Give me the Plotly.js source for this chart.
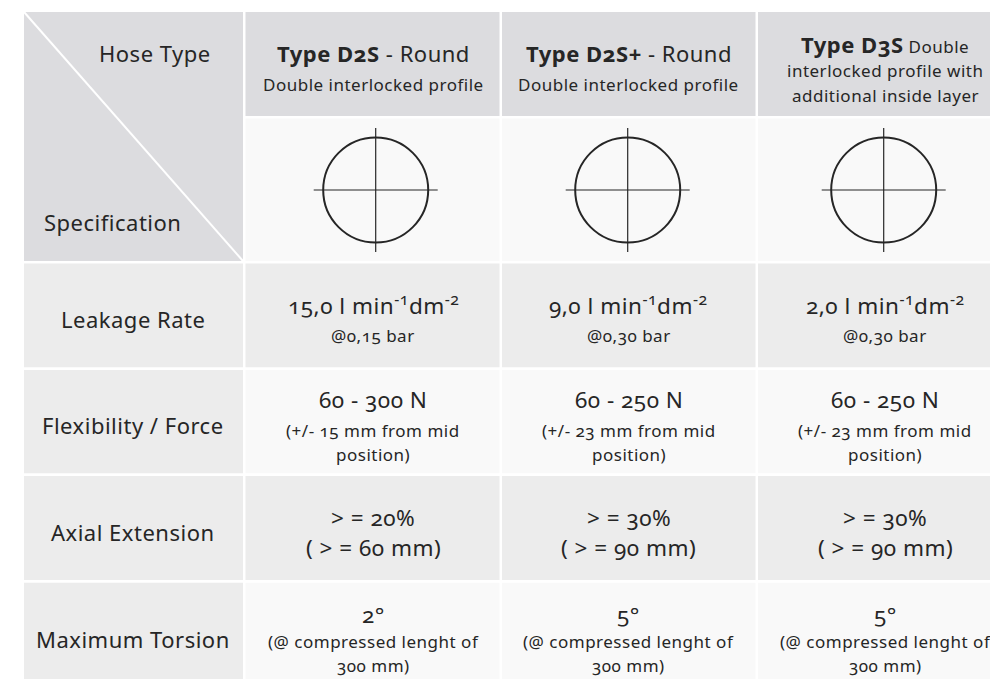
<!DOCTYPE html>
<html>
<head>
<meta charset="utf-8">
<script src="https://cdn.plot.ly/plotly-3.0.1.min.js"></script>
<style>
  html, body { margin: 0; padding: 0; background: #ffffff; }
  #chart { width: 990px; height: 679px; }
  .annotation-text { font-feature-settings: "onum" 1; font-variant-numeric: oldstyle-nums; letter-spacing: 0.5px; }
</style>
</head>
<body>
<div id="chart"></div>
<script>
// ---------------- DATA ----------------
const cornerTop = "Hose Type";
const cornerBottom = "Specification";
const hoseTypes = ["Type D2S", "Type D2S+", "Type D3S"];
const hoseSuffix = [" - Round", " - Round", " Double"];
const hoseDesc = [
  ["Double interlocked profile"],
  ["Double interlocked profile"],
  ["interlocked profile with", "additional inside layer"]
];
const specLabels = ["Leakage Rate", "Flexibility / Force", "Axial Extension", "Maximum Torsion"];
const leakageRate = ["15,0", "9,0", "2,0"];
const leakagePressure = ["0,15", "0,30", "0,30"];
const forceRange = ["60 - 300 N", "60 - 250 N", "60 - 250 N"];
const forceTravel = ["15", "23", "23"];
const extensionPct = ["20%", "30%", "30%"];
const extensionMm = ["60", "90", "90"];
const torsionDeg = ["2°", "5°", "5°"];
const torsionLength = ["300", "300", "300"];

// ---------------- LAYOUT CONSTANTS ----------------
const FONT = "'Noto Sans', 'Open Sans', sans-serif";
const TXT = "#262626";
const C_HEAD = "#dcdcdf", C_LIGHT = "#f9f9f9", C_MID = "#ececec", C_LINE = "#ffffff";
const colEdges = [[24, 243], [245.5, 499.5], [502, 755.5], [758, 1012]];
const rowEdges = [[12, 116], [118.5, 261], [263.5, 367.3], [370, 473.3], [476, 580], [582.7, 700]];
const colCenters = [133, 373, 628.5, 885];
const circleCenters = [375.7, 627.7, 883.7];
const circleY = 190, circleR = 52.5, crossH = 62, crossV = 62;
const S_LABEL = 22, S_HEAD = 22, S_MAIN = 22.5, S_SUB = 17;

const shapes = [];
const annotations = [];

function rect(x0, x1, y0, y1, color) {
  shapes.push({type: "rect", xref: "x", yref: "y", x0, x1, y0, y1,
    fillcolor: color, line: {width: 0}, layer: "below"});
}
function text(x, y, t, size, anchor) {
  annotations.push({xref: "x", yref: "y", x, y, text: t, showarrow: false,
    xanchor: anchor || "center", yanchor: "middle", align: anchor || "center",
    font: {family: FONT, size: size, color: TXT}});
}

// corner merged cell with diagonal
rect(colEdges[0][0], colEdges[0][1], rowEdges[0][0], rowEdges[1][1], C_HEAD);
shapes.push({type: "line", xref: "x", yref: "y", x0: colEdges[0][0], y0: rowEdges[0][0],
  x1: colEdges[0][1], y1: rowEdges[1][1], line: {color: C_LINE, width: 2}});
text(213, 53, cornerTop, S_LABEL, "right");
text(42, 222, cornerBottom, S_LABEL, "left");

// header + profile cells
hoseTypes.forEach((h, i) => {
  const c = colEdges[i + 1];
  rect(c[0], c[1], rowEdges[0][0], rowEdges[0][1], C_HEAD);
  rect(c[0], c[1], rowEdges[1][0], rowEdges[1][1], C_LIGHT);
  const cx = colCenters[i + 1];
  if (hoseDesc[i].length === 1) {
    text(cx, 53, "<b>" + h + "</b>" + hoseSuffix[i], S_HEAD);
    text(cx, 84, hoseDesc[i][0], S_SUB);
  } else {
    text(cx, 44, "<b>" + h + "</b><span style='font-size:" + S_SUB + "px'>" + hoseSuffix[i] + "</span>", S_HEAD);
    hoseDesc[i].forEach((d, k) => text(cx, 70 + k * 25, d, S_SUB));
  }
  // profile drawing
  const px = circleCenters[i];
  shapes.push({type: "circle", xref: "x", yref: "y", xsizemode: "pixel", ysizemode: "pixel",
    xanchor: px, yanchor: circleY, x0: -circleR, x1: circleR, y0: -circleR, y1: circleR,
    line: {color: TXT, width: 2}, fillcolor: "rgba(0,0,0,0)"});
  shapes.push({type: "line", xref: "x", yref: "y", x0: px - crossH, x1: px + crossH, y0: circleY, y1: circleY,
    line: {color: TXT, width: 1.2}});
  shapes.push({type: "line", xref: "x", yref: "y", x0: px, x1: px, y0: circleY - crossV, y1: circleY + crossV,
    line: {color: TXT, width: 1.2}});
});

// spec rows
const labelY = [319, 425, 532, 639];
specLabels.forEach((s, r) => {
  const re = rowEdges[r + 2];
  rect(colEdges[0][0], colEdges[0][1], re[0], re[1], C_MID);
  for (let i = 0; i < 3; i++) {
    const c = colEdges[i + 1];
    rect(c[0], c[1], re[0], re[1], r % 2 === 0 ? C_MID : C_LIGHT);
  }
  text(colCenters[0], labelY[r], s, S_LABEL);
});

for (let i = 0; i < 3; i++) {
  const cx = colCenters[i + 1];
  text(cx, 304, leakageRate[i] + " l min<sup>-1</sup>dm<sup>-2</sup>", S_MAIN);
  text(cx, 335, "@" + leakagePressure[i] + " bar", S_SUB);
  text(cx, 399, forceRange[i], S_MAIN);
  text(cx, 430, "(+/- " + forceTravel[i] + " mm from mid", S_SUB);
  text(cx, 454, "position)", S_SUB);
  text(cx, 517, "> = " + extensionPct[i], S_MAIN);
  text(cx, 547, "( > = " + extensionMm[i] + " mm)", S_MAIN);
  text(cx, 614, torsionDeg[i], S_MAIN);
  text(cx, 641, "(@ compressed lenght of", S_SUB);
  text(cx, 665, torsionLength[i] + " mm)", S_SUB);
}

const layout = {
  width: 990, height: 679,
  margin: {l: 0, r: 0, t: 0, b: 0, pad: 0},
  paper_bgcolor: "#ffffff", plot_bgcolor: "#ffffff",
  showlegend: false,
  xaxis: {range: [0, 990], visible: false, fixedrange: true},
  yaxis: {range: [679, 0], visible: false, fixedrange: true},
  shapes, annotations
};

Plotly.newPlot("chart", [{type: "scatter", x: [], y: [], mode: "markers", hoverinfo: "skip"}], layout,
  {staticPlot: true, displayModeBar: false});
</script>
</body>
</html>
